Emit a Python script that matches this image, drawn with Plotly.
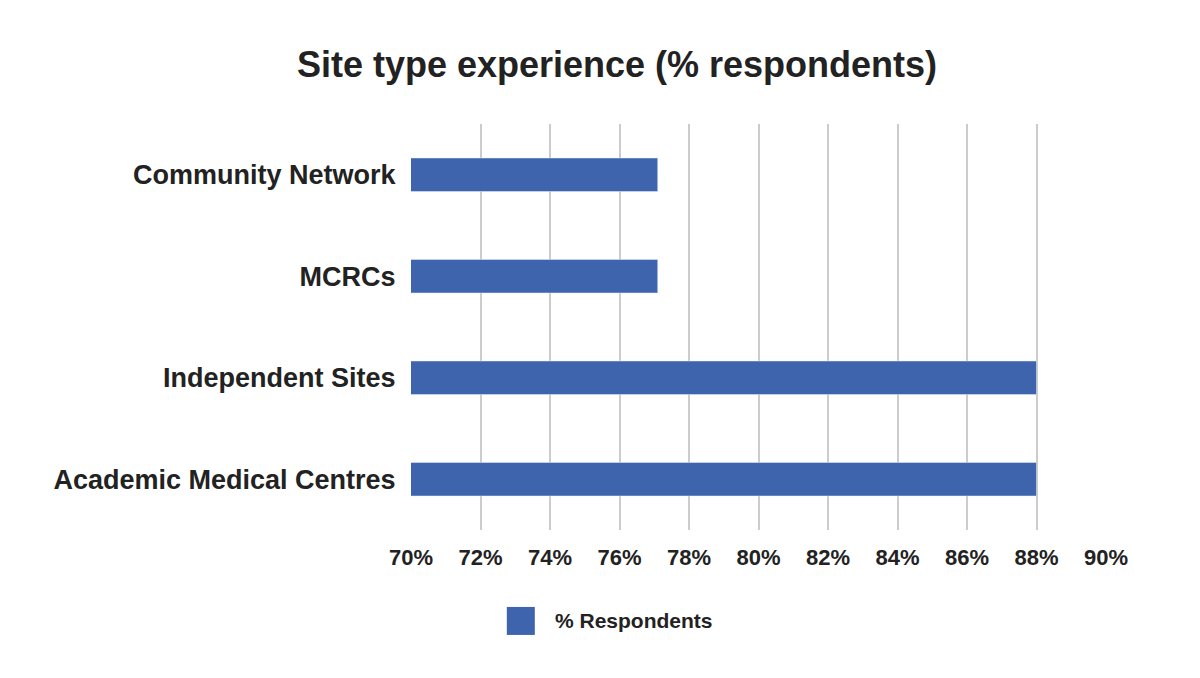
import plotly.graph_objects as go

site_types = ['Academic Medical Centres', 'Independent Sites', 'MCRCs', 'Community Network']
respondents_pct = [88, 88, 77.1, 77.1]
tick_vals = [70, 72, 74, 76, 78, 80, 82, 84, 86, 88, 90]
tick_text = [f'{v}%' for v in tick_vals]
series_name = '% Respondents'

bar_color = '#3d64ad'
font_family = 'Liberation Sans, Arial, sans-serif'

fig = go.Figure()
fig.add_trace(go.Bar(y=site_types, x=respondents_pct, base=0, orientation='h',
                     name=series_name, marker_color=bar_color, width=0.33))

fig.update_layout(
    width=1200, height=678,
    paper_bgcolor='white', plot_bgcolor='white',
    font=dict(family=font_family, color='#222222'),
    title=dict(text='<b>Site type experience (% respondents)</b>', x=0.5075, xanchor='center',
               y=0.917, yanchor='middle', font=dict(size=36, color='#222222')),
    margin=dict(l=403, r=102, t=116, b=156),
    showlegend=False,
    bargap=0.67,
)

# legend drawn by hand so the swatch can be as big as in the original
fig.add_shape(type='rect', xref='paper', yref='paper', xsizemode='pixel', ysizemode='pixel',
              xanchor=0.158, yanchor=-0.224, x0=-14, x1=14, y0=-14, y1=14,
              fillcolor=bar_color, line_width=0)
fig.add_annotation(text=f'<b>{series_name}</b>', xref='paper', yref='paper',
                   x=0.204, y=-0.224, xanchor='left', yanchor='middle', showarrow=False,
                   font=dict(size=21, color='#222222'))

fig.update_xaxes(range=[70, 90], tickvals=tick_vals, ticktext=tick_text,
                 showgrid=True, gridcolor='#cccccc', gridwidth=2, zeroline=False,
                 ticks='outside', ticklen=8, tickcolor='rgba(0,0,0,0)',
                 tickfont=dict(size=22, family=font_family, weight='bold'))
fig.update_yaxes(showgrid=False, ticks='outside', ticklen=9, tickcolor='rgba(0,0,0,0)',
                 tickfont=dict(size=27, family=font_family, weight='bold'))

fig.write_html("out.html")
